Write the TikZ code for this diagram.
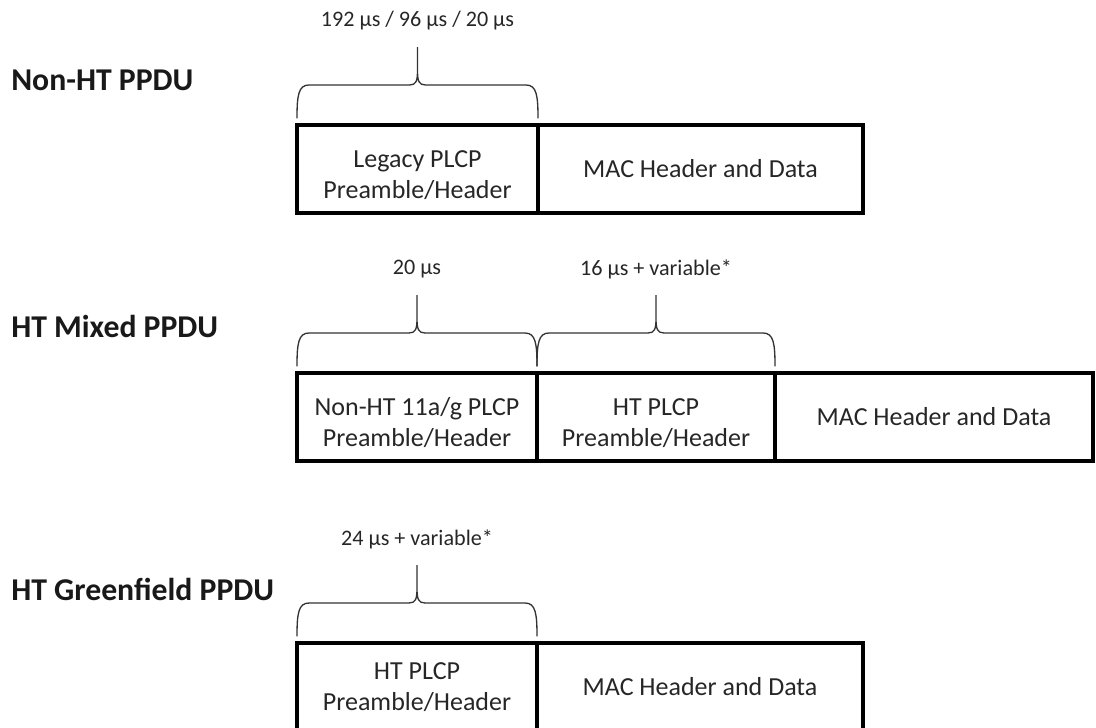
\documentclass[tikz,border=0pt]{standalone}
\usepackage{fontspec}
\setmainfont{Carlito}
\usetikzlibrary{positioning,calc}
\tikzset{
   cell/.style={draw=black, line width=3.5pt, outer sep=0pt, inner sep=2pt,
      minimum height=66pt, align=center, text=black!85,
      font=\fontsize{19.5}{23}\selectfont},
   two line/.style={text height=45pt},
   ppdu name/.style={anchor=west, inner sep=0pt, text=black!90,
      font=\fontsize{23.8}{28}\selectfont\bfseries},
   span label/.style={inner sep=0pt, text=black!85,
      font=\fontsize{16.6}{20}\selectfont},
   brace line/.style={draw=black!80, line width=1pt},
    }
% curly brace over a cell: left anchor, right anchor, label name, label text
\newcommand{\durbrace}[4]{%
   \draw[brace line] let \p1=(#1), \p2=(#2), \p3=($(#1)!0.5!(#2)$) in
      (\x1,\y1+5pt) .. controls (\x1,\y1+22pt) and (\x1+1pt,\y1+30pt) .. (\x1+9pt,\y1+30pt)
      -- (\x3-6pt,\y1+30pt) .. controls (\x3-1pt,\y1+30pt) and (\x3,\y1+33pt) .. (\x3,\y1+41pt)
      -- (\x3,\y1+58.5pt)
      (\x2,\y1+5pt) .. controls (\x2,\y1+22pt) and (\x2-1pt,\y1+30pt) .. (\x2-9pt,\y1+30pt)
      -- (\x3+6pt,\y1+30pt) .. controls (\x3+1pt,\y1+30pt) and (\x3,\y1+33pt) .. (\x3,\y1+41pt);
   \node[span label] (#3) at ($(#1)!0.5!(#2)+(0,-104)$) {#4};
}

\begin{document}
\begin{tikzpicture}[x=0.75pt, y=-0.75pt]
        \useasboundingbox (0,0) rectangle (1096,728);
        % Non-HT
        \node[ppdu name] (nonht) at (11,80) {Non-HT PPDU};
        \node[cell, two line, anchor=north west, minimum width=180.75pt] (nonht-plcp) at (297,125) {Legacy PLCP\\Preamble/Header};
        \node[cell, minimum width=243.75pt, right=0pt of nonht-plcp] (nonht-mac) {MAC Header and Data};
        \durbrace{nonht-plcp.north west}{nonht-plcp.north east}{nonht-time}{192 µs / 96 µs / 20 µs}
        % HT mixed
        \node[ppdu name] (mixed) at (11,326) {HT Mixed PPDU};
        \node[cell, two line, anchor=north west, minimum width=180pt] (mixed-legacy) at (297,373) {Non-HT 11a/g PLCP\\Preamble/Header};
        \node[cell, two line, minimum width=178.5pt, right=0pt of mixed-legacy] (mixed-ht) {HT PLCP\\Preamble/Header};
        \node[cell, minimum width=238.5pt, right=0pt of mixed-ht] (mixed-mac) {MAC Header and Data};
        \durbrace{mixed-legacy.north west}{mixed-legacy.north east}{mixed-t1}{20 µs}
        \durbrace{mixed-ht.north west}{mixed-ht.north east}{mixed-t2}{16 µs + variable*}
        % HT greenfield
        \node[ppdu name] (green) at (11,589) {HT Greenfield PPDU};
        \node[cell, anchor=north west, minimum width=180pt] (green-ht) at (297,643) {HT PLCP\\Preamble/Header};
        \node[cell, minimum width=244.5pt, right=0pt of green-ht] (green-mac) {MAC Header and Data};
        \durbrace{green-ht.north west}{green-ht.north east}{green-time}{24 µs + variable*}
\end{tikzpicture}
\end{document}
